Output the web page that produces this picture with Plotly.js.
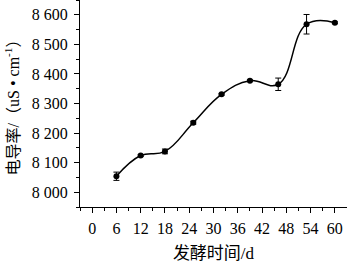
<!DOCTYPE html>
<html>
<head>
<meta charset="utf-8">
<script src="https://cdn.plot.ly/plotly-3.0.1.min.js"></script>
<style>html,body{margin:0;padding:0;background:#fff;}#chart{width:347px;height:265px;}</style>
</head>
<body>
<div id="chart"></div>
<script>
const days = [6, 12, 18, 25, 32, 39, 46, 53, 60];
const conductivity = [8054, 8124, 8138, 8235, 8331, 8377, 8365, 8568, 8573];
const errors = [14, 3, 8, 5, 3, 3, 21, 33, 3];
const xTickVals = [0, 6, 12, 18, 24, 30, 36, 42, 48, 54, 60];
const yTickVals = [8000, 8100, 8200, 8300, 8400, 8500, 8600];

const font = "'Liberation Serif', 'Noto Sans CJK SC', serif";

const trace = {
  x: days,
  y: conductivity,
  type: 'scatter',
  mode: 'lines+markers',
  line: {color: '#000', width: 1.5, shape: 'spline', smoothing: 1.2},
  marker: {color: '#000', size: 6},
  error_y: {type: 'data', array: errors, visible: true, color: '#000', thickness: 1, width: 3}
};

const layout = {
  width: 347, height: 265,
  margin: {l: 80, r: 0, t: 0, b: 58},
  paper_bgcolor: '#fff', plot_bgcolor: '#fff',
  showlegend: false,
  separators: '. ',
  font: {family: font, color: '#000', size: 16},
  xaxis: {
    range: [-3, 63],
    tickvals: xTickVals,
    ticks: 'outside', ticklen: 5, tickwidth: 1, tickcolor: '#000',
    minor: {dtick: 3, ticks: 'outside', ticklen: 3, tickwidth: 1, tickcolor: '#000'},
    showline: true, linecolor: '#000', linewidth: 1,
    showgrid: false, zeroline: false,
    ticklabelstandoff: 2,
    tickfont: {family: font, size: 16},
    title: {text: '发酵时间/d', font: {family: font, size: 17}, standoff: 10}
  },
  yaxis: {
    range: [7950, 8650],
    tickvals: yTickVals,
    separatethousands: true,
    ticks: 'outside', ticklen: 5, tickwidth: 1, tickcolor: '#000',
    minor: {dtick: 50, tick0: 7950, ticks: 'outside', ticklen: 3, tickwidth: 1, tickcolor: '#000'},
    showline: true, linecolor: '#000', linewidth: 1,
    showgrid: false, zeroline: false,
    ticklabelstandoff: 3,
    tickfont: {family: font, size: 16},
    title: {text: '电导率/（uS • cm<sup>-1</sup>）', font: {family: font, size: 16}, standoff: 8}
  }
};

Plotly.newPlot('chart', [trace], layout, {displayModeBar: false, staticPlot: true});
</script>
</body>
</html>
